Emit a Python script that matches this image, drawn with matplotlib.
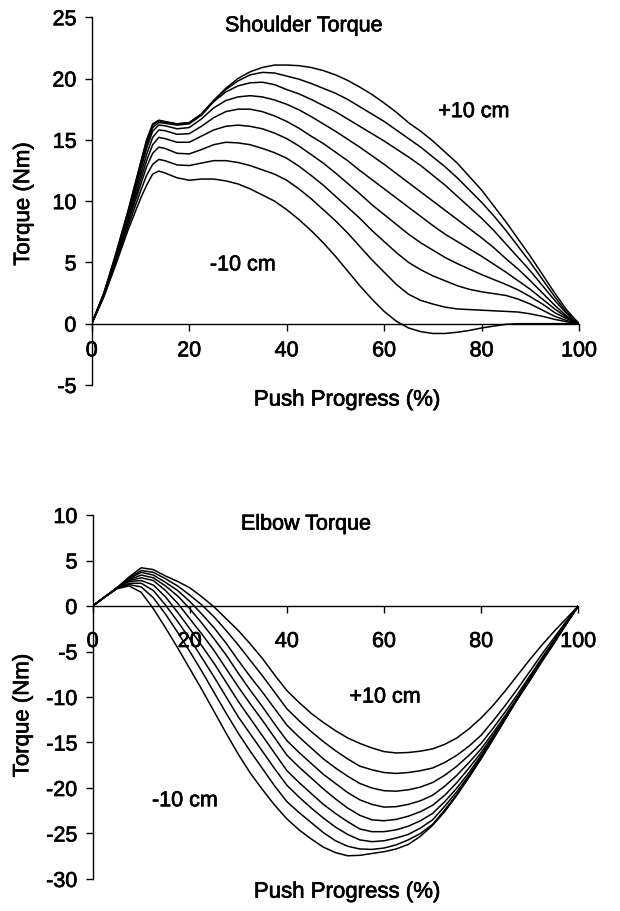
import matplotlib
matplotlib.use("Agg")
import matplotlib.pyplot as plt
import matplotlib.patheffects as pe

plt.rcParams['font.family'] = ['Liberation Sans', 'DejaVu Sans']
plt.rcParams['axes.unicode_minus'] = False

# ---------------- data ----------------
x_top = [0, 2.5, 5, 7.5, 10, 11.25, 12.5, 13.75, 15, 17.5, 20, 22.5, 25, 27.5, 30, 32.5,
         35, 37.5, 40, 42.5, 45, 47.5, 50, 52.5, 55, 57.5, 60, 62.5, 65, 67.5, 70, 72.5,
         75, 77.5, 80, 82.5, 85, 87.5, 90, 92.5, 95, 97.5, 100]

shoulder_m10 = [0, 2.2, 4.9, 7.7, 10.2, 11.3, 12.2, 12.45, 12.3, 11.9, 11.7, 11.8, 11.8, 11.65, 11.4, 11.0,
                10.5, 10.0, 9.3, 8.5, 7.6, 6.6, 5.5, 4.3, 3.1, 2.0, 1.0, 0.2, -0.35, -0.65, -0.8, -0.8,
                -0.7, -0.55, -0.35, -0.2, -0.05, 0.0, 0.0, 0.0, 0.0, 0.0, 0.0]
shoulder_m75 = [0, 2.3, 5.1, 8.0, 10.8, 12.1, 13.0, 13.4, 13.3, 12.95, 12.9, 13.1, 13.3, 13.3, 13.15, 12.9,
                12.55, 12.2, 11.7, 11.0, 10.2, 9.3, 8.4, 7.4, 6.3, 5.2, 4.2, 3.2, 2.4, 1.9, 1.6, 1.35,
                1.2, 1.15, 1.1, 1.05, 1.0, 0.95, 0.8, 0.6, 0.35, 0.15, 0]
shoulder_m5 = [0, 2.3, 5.2, 8.3, 11.3, 12.8, 13.9, 14.4, 14.3, 13.9, 13.85, 14.2, 14.6, 14.8, 14.75, 14.6,
               14.3, 13.95, 13.5, 12.85, 12.1, 11.3, 10.4, 9.5, 8.6, 7.6, 6.7, 5.8, 5.0, 4.4, 3.9, 3.5,
               3.1, 2.8, 2.6, 2.45, 2.3, 2.0, 1.6, 1.1, 0.6, 0.25, 0]
shoulder_m25 = [0, 2.4, 5.3, 8.5, 11.7, 13.3, 14.6, 15.2, 15.1, 14.8, 14.8, 15.3, 15.8, 16.1, 16.2, 16.1,
                15.9, 15.55, 15.1, 14.5, 13.8, 13.1, 12.3, 11.45, 10.6, 9.7, 8.9, 8.1, 7.3, 6.6, 6.0, 5.4,
                4.9, 4.45, 4.0, 3.6, 3.2, 2.75, 2.2, 1.6, 0.9, 0.4, 0]
shoulder_0 = [0, 2.4, 5.4, 8.7, 12.1, 13.8, 15.2, 15.8, 15.75, 15.45, 15.5, 16.1, 16.8, 17.3, 17.5, 17.5,
              17.3, 16.95, 16.5, 15.95, 15.3, 14.7, 14.0, 13.3, 12.5, 11.75, 11.0, 10.25, 9.5, 8.75, 8.0, 7.3,
              6.7, 6.1, 5.5, 4.85, 4.2, 3.5, 2.8, 2.0, 1.2, 0.5, 0]
shoulder_p25 = [0, 2.4, 5.5, 8.9, 12.5, 14.3, 15.7, 16.2, 16.15, 15.9, 16.0, 16.7, 17.6, 18.2, 18.5, 18.6,
                18.5, 18.25, 17.9, 17.45, 16.9, 16.3, 15.7, 15.05, 14.4, 13.7, 13.0, 12.25, 11.5, 10.75, 10.0, 9.25,
                8.5, 7.75, 7.0, 6.2, 5.3, 4.45, 3.5, 2.5, 1.5, 0.6, 0]
shoulder_p5 = [0, 2.5, 5.6, 9.1, 12.8, 14.6, 16.0, 16.4, 16.35, 16.2, 16.3, 17.0, 18.1, 18.9, 19.4, 19.65,
               19.7, 19.5, 19.1, 18.75, 18.3, 17.8, 17.3, 16.7, 16.1, 15.5, 14.9, 14.25, 13.6, 12.9, 12.1, 11.3,
               10.4, 9.5, 8.6, 7.6, 6.5, 5.4, 4.3, 3.1, 1.9, 0.8, 0]
shoulder_p75 = [0, 2.5, 5.7, 9.2, 13.0, 14.9, 16.2, 16.55, 16.45, 16.3, 16.4, 17.1, 18.2, 19.1, 19.8, 20.3,
                20.5, 20.45, 20.2, 19.95, 19.6, 19.2, 18.8, 18.3, 17.7, 17.1, 16.5, 15.8, 15.1, 14.4, 13.6, 12.8,
                11.9, 10.9, 9.9, 8.8, 7.6, 6.3, 5.0, 3.6, 2.2, 0.9, 0]
shoulder_p10 = [0, 2.5, 5.8, 9.3, 13.1, 15.0, 16.3, 16.6, 16.5, 16.3, 16.4, 17.1, 18.2, 19.2, 20.0, 20.55,
                20.9, 21.1, 21.1, 21.05, 20.9, 20.65, 20.3, 19.85, 19.3, 18.7, 18.0, 17.25, 16.4, 15.7, 14.9, 14.0,
                13.1, 12.0, 10.9, 9.6, 8.3, 6.9, 5.5, 4.0, 2.5, 1.1, 0]

x_bot = [0, 2.5, 5, 7.5, 10, 12.5, 15, 17.5, 20, 22.5, 25, 27.5, 30, 32.5, 35, 37.5,
         40, 42.5, 45, 47.5, 50, 52.5, 55, 57.5, 60, 62.5, 65, 67.5, 70, 72.5, 75, 77.5,
         80, 82.5, 85, 87.5, 90, 92.5, 95, 97.5, 100]

elbow_p10 = [0, 1.0, 2.0, 3.2, 4.2, 4.0, 3.3, 2.7, 2.0, 1.0, -0.1, -1.4, -2.7, -4.2, -5.8, -7.6,
             -9.3, -10.6, -11.8, -12.8, -13.7, -14.5, -15.1, -15.6, -16.0, -16.15, -16.1, -15.95, -15.7, -15.2, -14.5, -13.5,
             -12.3, -10.9, -9.3, -7.6, -5.9, -4.3, -2.8, -1.4, 0]
elbow_p75 = [0, 1.0, 2.0, 3.1, 3.9, 3.7, 3.0, 2.2, 1.2, 0.1, -1.2, -2.7, -4.3, -6.0, -7.7, -9.5,
             -11.3, -12.6, -13.8, -14.9, -15.9, -16.8, -17.6, -18.0, -18.3, -18.4, -18.3, -18.1, -17.8, -17.2, -16.4, -15.4,
             -14.2, -12.6, -10.9, -9.1, -7.2, -5.3, -3.5, -1.7, 0]
elbow_p5 = [0, 1.0, 2.0, 3.0, 3.7, 3.4, 2.6, 1.7, 0.5, -0.9, -2.4, -4.1, -6.0, -7.8, -9.5, -11.3,
            -13.1, -14.4, -15.6, -16.8, -17.8, -18.7, -19.5, -20.0, -20.3, -20.35, -20.2, -19.9, -19.4, -18.6, -17.6, -16.4,
            -15.1, -13.4, -11.6, -9.7, -7.7, -5.7, -3.8, -1.9, 0]
elbow_p25 = [0, 1.0, 2.0, 2.9, 3.4, 3.1, 2.2, 1.1, -0.3, -1.9, -3.6, -5.4, -7.4, -9.3, -11.1, -13.0,
             -14.8, -16.1, -17.3, -18.5, -19.5, -20.5, -21.3, -21.8, -22.1, -22.05, -21.8, -21.4, -20.8, -19.8, -18.6, -17.2,
             -15.7, -13.9, -12.0, -10.0, -8.0, -6.0, -4.0, -2.0, 0]
elbow_0 = [0, 1.0, 2.0, 2.8, 3.1, 2.8, 1.7, 0.3, -1.4, -3.1, -4.9, -6.9, -8.9, -10.8, -12.6, -14.5,
           -16.4, -17.7, -18.9, -20.1, -21.2, -22.2, -23.0, -23.5, -23.6, -23.45, -23.1, -22.6, -21.9, -20.8, -19.4, -17.8,
           -16.1, -14.2, -12.2, -10.2, -8.2, -6.1, -4.1, -2.0, 0]
elbow_m25 = [0, 1.0, 2.0, 2.7, 2.8, 2.3, 1.0, -0.7, -2.5, -4.4, -6.3, -8.4, -10.5, -12.4, -14.3, -16.2,
             -18.1, -19.4, -20.6, -21.8, -22.8, -23.7, -24.5, -24.8, -24.8, -24.6, -24.2, -23.6, -22.8, -21.5, -20.0, -18.3,
             -16.4, -14.4, -12.3, -10.2, -8.2, -6.1, -4.1, -2.0, 0]
elbow_m5 = [0, 1.0, 1.95, 2.5, 2.5, 1.7, 0.1, -1.7, -3.6, -5.7, -7.8, -10.0, -12.2, -14.1, -16.0, -17.9,
            -19.7, -21.0, -22.2, -23.3, -24.3, -25.1, -25.7, -25.9, -25.8, -25.5, -25.1, -24.4, -23.5, -22.0, -20.4, -18.6,
            -16.6, -14.5, -12.4, -10.2, -8.1, -6.0, -4.0, -2.0, 0]
elbow_m75 = [0, 1.0, 1.95, 2.35, 2.1, 0.9, -0.9, -2.9, -5.0, -7.2, -9.5, -11.8, -14.0, -16.0, -17.9, -19.8,
             -21.5, -22.7, -23.8, -24.9, -25.8, -26.4, -26.7, -26.75, -26.6, -26.25, -25.7, -25.0, -24.0, -22.4, -20.7, -18.8,
             -16.7, -14.6, -12.4, -10.2, -8.0, -5.9, -3.9, -1.9, 0]
elbow_m10 = [0, 1.0, 1.9, 2.2, 1.5, -0.3, -2.4, -4.6, -6.9, -9.2, -11.6, -14.0, -16.3, -18.4, -20.2, -21.9,
             -23.4, -24.6, -25.6, -26.5, -27.1, -27.45, -27.4, -27.2, -27.0, -26.7, -26.2, -25.3, -24.1, -22.6, -20.8, -18.8,
             -16.8, -14.6, -12.4, -10.1, -7.9, -5.8, -3.8, -1.9, 0]

shoulder_series = [shoulder_m10, shoulder_m75, shoulder_m5, shoulder_m25, shoulder_0,
                   shoulder_p25, shoulder_p5, shoulder_p75, shoulder_p10]
elbow_series = [elbow_m10, elbow_m75, elbow_m5, elbow_m25, elbow_0,
                elbow_p25, elbow_p5, elbow_p75, elbow_p10]

x_ticks = [0, 20, 40, 60, 80, 100]
top_yticks = [-5, 0, 5, 10, 15, 20, 25]
bot_yticks = [-30, -25, -20, -15, -10, -5, 0, 5, 10]

# ---------------- figure ----------------
fig = plt.figure(figsize=(6.2, 9.12), dpi=100)
ax1 = fig.add_axes([0.148, 0.5768, 0.786, 0.4032])
ax2 = fig.add_axes([0.1495, 0.0351, 0.7832, 0.3991])

TICK_FS = 15.5
LBL_FS = 16
TXT_FS = 15.5
heavy = [pe.withStroke(linewidth=0.5, foreground='black')]


def style(ax, ylim, yticks, xpad):
    ax.set_xlim(0, 100)
    ax.set_ylim(*ylim)
    ax.set_xticks(x_ticks)
    ax.set_yticks(yticks)
    for s in ('top', 'right'):
        ax.spines[s].set_visible(False)
    ax.spines['bottom'].set_position(('data', 0))
    ax.spines['left'].set_linewidth(1.0)
    ax.spines['bottom'].set_linewidth(1.0)
    ax.tick_params(axis='y', direction='out', length=5, width=1.0, pad=6,
                   labelsize=TICK_FS)
    ax.tick_params(axis='x', direction='out', length=5, width=1.0, pad=xpad,
                   labelsize=TICK_FS)
    for lab in ax.get_xticklabels() + ax.get_yticklabels():
        lab.set_path_effects(heavy)
    ax.patch.set_visible(False)


def put(ax, x, y, s):
    ax.text(x, y, s, fontsize=TXT_FS, ha='center', va='center', path_effects=heavy)


for ys in shoulder_series:
    ax1.plot(x_top, ys, color='black', lw=1.1, solid_joinstyle='round')
style(ax1, (-5, 25), top_yticks, 7)
ax1.set_xlabel('Push Progress (%)', fontsize=LBL_FS, va='center', path_effects=heavy)
ax1.xaxis.set_label_coords(0.524, -0.041)
ax1.set_ylabel('Torque (Nm)', fontsize=LBL_FS, va='center', path_effects=heavy)
ax1.yaxis.set_label_coords(-0.14, 0.492)
put(ax1, 43.5, 24.3, 'Shoulder Torque')
put(ax1, 78.4, 17.3, '+10 cm')
put(ax1, 31.0, 4.8, '-10 cm')

for ys in elbow_series:
    ax2.plot(x_bot, ys, color='black', lw=1.1, solid_joinstyle='round')
style(ax2, (-30, 10), bot_yticks, 13)
ax2.set_xlabel('Push Progress (%)', fontsize=LBL_FS, va='center', path_effects=heavy)
ax2.xaxis.set_label_coords(0.524, -0.036)
ax2.set_ylabel('Torque (Nm)', fontsize=LBL_FS, va='center', path_effects=heavy)
ax2.yaxis.set_label_coords(-0.144, 0.449)
put(ax2, 43.9, 9.0, 'Elbow Torque')
put(ax2, 60.2, -10.0, '+10 cm')
put(ax2, 19.0, -21.4, '-10 cm')

fig.savefig('out.png', dpi=100)
